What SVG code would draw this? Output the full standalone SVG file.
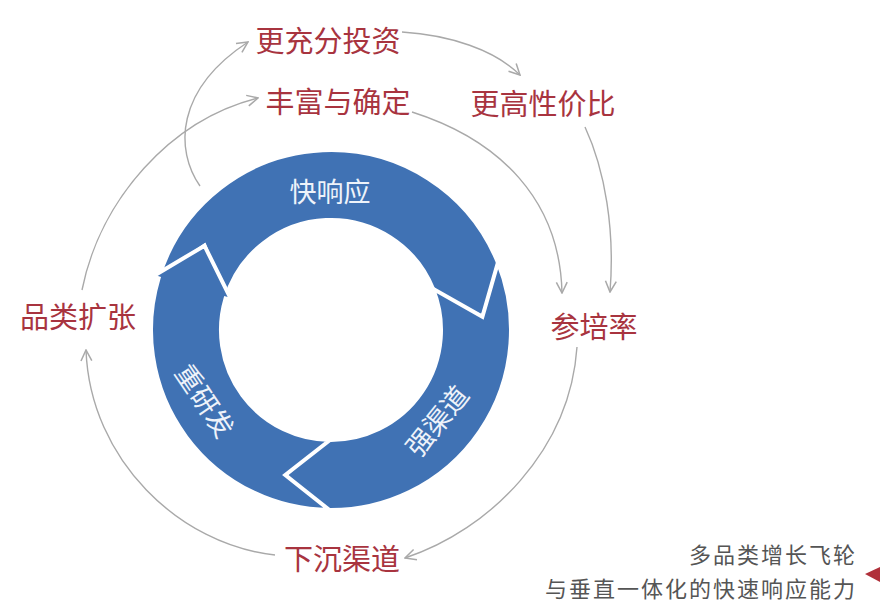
<svg xmlns="http://www.w3.org/2000/svg" width="882" height="610" viewBox="0 0 882 610">
<style>
.seg{fill:#4072b4;stroke:#ffffff;stroke-width:4;stroke-linejoin:miter}
.in{font-family:"Noto Sans CJK SC","Noto Sans",sans-serif;font-size:27px;fill:#eef3fa;text-anchor:middle;dominant-baseline:central}
.lbl{font-family:"Noto Sans CJK SC","Noto Sans",sans-serif;font-size:29px;fill:#a8343f;text-anchor:middle;dominant-baseline:central}
.cap{font-family:"Noto Sans CJK SC","Noto Sans",sans-serif;font-size:22px;fill:#555555;text-anchor:end;letter-spacing:2px}
.con{fill:none;stroke:#a9a9a9;stroke-width:1.4;marker-end:url(#ah)}
</style>
<defs>
<marker id="ah" viewBox="0 0 12 12" refX="11" refY="6" markerWidth="13" markerHeight="13" markerUnits="userSpaceOnUse" orient="auto">
<path d="M1,1 L11,6 L1,11" fill="none" stroke="#a9a9a9" stroke-width="1.4"/>
</marker>
</defs>
<rect width="882" height="610" fill="#ffffff"/>
<g id="connectors">
<path class="con" d="M82,290 C100,200 170,120 258,98"/>
<path class="con" d="M200,186 C175,150 175,90 248,42"/>
<path class="con" d="M402,32 C450,35 495,50 520,75"/>
<path class="con" d="M412,112 C500,140 560,200 562,293"/>
<path class="con" d="M585,127 C605,170 615,230 610,292"/>
<path class="con" d="M577,347 C570,450 490,530 405,558"/>
<path class="con" d="M275,555 C180,545 90,460 86,350"/>
</g>
<g id="seg-fast">
<path class="seg" d="M158.6,278.3 A180,180 0 0 1 497.9,262.6 L503.5,260.3 L482.4,316.7 L427.4,291 L433,288.8 A110,110 0 0 0 225.6,298.4 L204.5,245.7 Z"/>
<text class="in" x="330" y="190">快响应</text>
</g>
<g id="seg-channel">
<path class="seg" d="M497.9,262.6 A180,180 0 0 1 329.4,510 L329.4,516 L285.3,475 L330.1,434 L330,440 A110,110 0 0 0 433,288.8 L482.4,316.7 Z"/>
<text class="in" x="436" y="420" transform="rotate(-51 436 420)">强渠道</text>
</g>
<g id="seg-rd">
<path class="seg" d="M329.4,510 A180,180 0 0 1 158.6,278.3 L152.8,276.5 L204.5,245.7 L231.4,300.1 L225.6,298.4 A110,110 0 0 0 330,440 L285.3,475 Z"/>
<text class="in" x="206" y="400" transform="rotate(56 206 400)">重研发</text>
</g>
<g id="n-invest"><text class="lbl" x="328" y="39">更充分投资</text></g>
<g id="n-rich"><text class="lbl" x="338" y="100">丰富与确定</text></g>
<g id="n-value"><text class="lbl" x="543" y="102">更高性价比</text></g>
<g id="n-rate"><text class="lbl" x="594" y="325">参培率</text></g>
<g id="n-category"><text class="lbl" x="78" y="315">品类扩张</text></g>
<g id="n-sink"><text class="lbl" x="342" y="557">下沉渠道</text></g>
<g id="caption">
<text class="cap" x="857" y="563">多品类增长飞轮</text>
<text class="cap" x="857" y="597">与垂直一体化的快速响应能力</text>
<polygon points="865,574 880,567 880,582" fill="#b0303a"/>
</g>
</svg>
